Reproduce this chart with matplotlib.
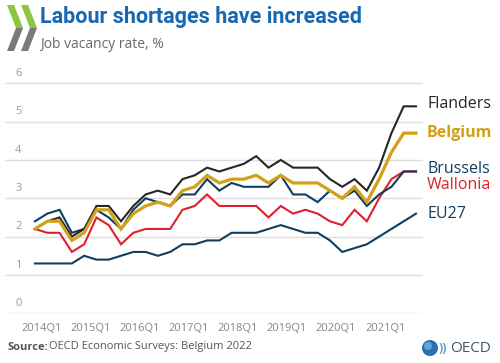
import numpy as np
import matplotlib
matplotlib.use('Agg')
import matplotlib.pyplot as plt
from matplotlib.patches import Polygon, Circle

# Job vacancy rate (%), quarterly, 2014Q1 ... 2021Q4
years = list(range(2014, 2022))
tick_labels = ['{}Q1'.format(y) for y in years]

flanders = [2.2, 2.4, 2.5, 2.0, 2.2, 2.8, 2.8, 2.4, 2.8, 3.1, 3.2, 3.1, 3.5, 3.6, 3.8, 3.7,
            3.8, 3.9, 4.1, 3.8, 4.0, 3.8, 3.8, 3.8, 3.5, 3.3, 3.5, 3.2, 3.8, 4.7, 5.4, 5.4]
belgium = [2.2, 2.4, 2.4, 1.9, 2.1, 2.7, 2.7, 2.2, 2.6, 2.8, 2.9, 2.8, 3.2, 3.3, 3.6, 3.4,
           3.5, 3.5, 3.6, 3.4, 3.6, 3.4, 3.4, 3.4, 3.2, 3.0, 3.3, 2.9, 3.5, 4.2, 4.7, 4.7]
brussels = [2.4, 2.6, 2.7, 2.1, 2.2, 2.7, 2.5, 2.2, 2.7, 3.0, 2.9, 2.8, 3.1, 3.1, 3.5, 3.2,
            3.4, 3.3, 3.3, 3.3, 3.6, 3.1, 3.1, 2.9, 3.2, 3.0, 3.2, 2.8, 3.1, 3.3, 3.7, 3.7]
wallonia = [2.2, 2.1, 2.1, 1.6, 1.8, 2.5, 2.3, 1.8, 2.1, 2.2, 2.2, 2.2, 2.7, 2.8, 3.1, 2.8,
            2.8, 2.8, 2.8, 2.5, 2.8, 2.6, 2.7, 2.6, 2.4, 2.3, 2.7, 2.4, 3.0, 3.5, 3.7, 3.7]
eu27 = [1.3, 1.3, 1.3, 1.3, 1.5, 1.4, 1.4, 1.5, 1.6, 1.6, 1.5, 1.6, 1.8, 1.8, 1.9, 1.9,
        2.1, 2.1, 2.1, 2.2, 2.3, 2.2, 2.1, 2.1, 1.9, 1.6, 1.7, 1.8, 2.0, 2.2, 2.4, 2.6]

NAVY = '#0e3e60'
RED = '#e0202f'
GOLD = '#d4a017'
BLACK = '#262626'
BLUE = '#1668b3'

plt.rcParams['font.family'] = ['Open Sans', 'DejaVu Sans']


def main():
    fig = plt.figure(figsize=(5.0, 3.63), dpi=100)

    # Zone du graphique (pixels: x 5..423, y 313 -> 0)
    ax = fig.add_axes([0.01, 0.137, 0.836, 0.644])
    x = np.arange(len(belgium))

    # Ordre de tracé: Belgique au-dessus
    series = [
        (eu27, NAVY, 1.5, 'EU27', 'normal', 0),
        (wallonia, RED, 1.5, 'Wallonia', 'normal', -10),
        (brussels, NAVY, 1.5, 'Brussels', 'normal', 2),
        (flanders, BLACK, 1.5, 'Flanders', 'normal', 1.5),
        (belgium, GOLD, 2.3, 'Belgium', 'bold', 0),
    ]
    for vals, col, lw, name, wt, dy in series:
        ax.plot(x, vals, color=col, lw=lw, solid_joinstyle='miter')
        ax.annotate(name, xy=(x[-1], vals[-1]), xytext=(8, dy),
                    textcoords='offset points', ha='left', va='center',
                    fontsize=11.5, color=col, fontweight=wt,
                    annotation_clip=False)

    ax.set_xlim(-2.44, 31.57)
    ax.set_ylim(0, 6.1)
    ax.set_yticks(range(7))
    ax.set_yticklabels([])
    ax.grid(axis='y', color='#dedede', lw=1)
    ax.set_axisbelow(True)
    for s in ax.spines.values():
        s.set_visible(False)

    # labels des ordonnées au-dessus des lignes
    for v in range(7):
        ax.annotate(str(v), xy=(0.024, v), xycoords=('axes fraction', 'data'),
                    xytext=(0, 3), textcoords='offset points',
                    ha='left', va='bottom', fontsize=8, color='#9a9a9a')

    # labels des abscisses (un par an, premier trimestre)
    ax.set_xticks(np.arange(0, len(belgium), 4) + 0.5)
    ax.set_xticklabels(tick_labels, fontsize=8, color='#858585')
    ax.tick_params(axis='both', length=0)
    ax.tick_params(axis='x', pad=7)

    # Décor: titre, logo, source
    deco = fig.add_axes([0, 0, 1, 1], zorder=-1)
    deco.set_xlim(0, 500)
    deco.set_ylim(363, 0)
    deco.axis('off')

    for x0 in (7, 21):
        deco.add_patch(Polygon([(x0, 5), (x0 + 7, 5), (x0 + 16, 28), (x0 + 9, 28)],
                               closed=True, color='#8cc63f', lw=0))
        deco.add_patch(Polygon([(x0 + 9, 28), (x0 + 16, 28), (x0 + 7, 51), (x0, 51)],
                               closed=True, color='#7a7a7a', lw=0))

    deco.text(40, 17, 'Labour shortages have increased',
              family=['Liberation Sans Narrow', 'Roboto', 'DejaVu Sans'],
              fontsize=15.5, fontweight='bold', color=BLUE, va='center', ha='left')
    deco.text(40, 44, 'Job vacancy rate, %', fontsize=10, color='#6a6a6a',
              va='center', ha='left')

    deco.text(8, 347, 'Source:', fontsize=8, fontweight='bold', color='#555555',
              va='center', ha='left')
    deco.text(49, 347, 'OECD Economic Surveys: Belgium 2022', fontsize=8,
              color='#555555', va='center', ha='left')

    # Logo OECD
    deco.add_patch(Circle((430, 348), 8, color='#2a6fb0', lw=0))
    deco.add_patch(Circle((428, 346), 4, color='#5fa3dc', lw=0))
    deco.text(439, 348, '))', fontsize=9, color='#5aa0d8', va='center', ha='left',
              fontweight='bold')
    deco.text(450, 348, 'OECD', fontsize=11, color='#43556a', va='center', ha='left')

    fig.savefig('out.png', dpi=100)


if __name__ == "__main__":
    main()
